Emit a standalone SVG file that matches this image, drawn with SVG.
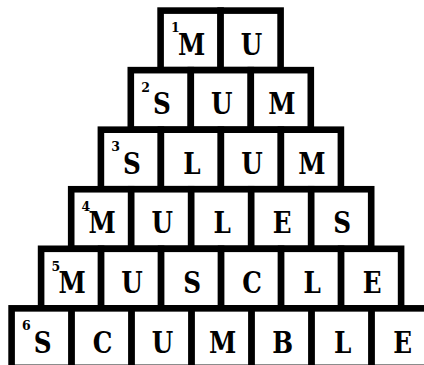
<svg xmlns="http://www.w3.org/2000/svg" width="424" height="365" viewBox="0 0 424 365">
<style>
.c{fill:#fff;stroke:#000;stroke-width:6.6}
.l{font-family:"DejaVu Serif","Liberation Serif",serif;font-weight:bold;font-size:29px;text-anchor:middle;fill:#000}
.n{font-family:"DejaVu Serif","Liberation Serif",serif;font-weight:bold;font-size:12.5px;fill:#000}
</style>
<rect width="424" height="365" fill="#fff"/>
<g id="connectors"/>
<g id="row1">
<g id="r1c1"><rect class="c" x="160.6" y="10.6" width="60" height="59.5"/><text class="n" x="171" y="32.3">1</text><text class="l" transform="translate(191.6 54.8) scale(0.85 1)">M</text></g>
<g id="r1c2"><rect class="c" x="220.6" y="10.6" width="60" height="59.5"/><text class="l" transform="translate(251.6 54.8) scale(0.85 1)">U</text></g>
</g>
<g id="row2">
<g id="r2c1"><rect class="c" x="130.8" y="70.15" width="60" height="59.5"/><text class="n" x="141.2" y="91.85">2</text><text class="l" transform="translate(161.8 114.35) scale(0.85 1)">S</text></g>
<g id="r2c2"><rect class="c" x="190.8" y="70.15" width="60" height="59.5"/><text class="l" transform="translate(221.8 114.35) scale(0.85 1)">U</text></g>
<g id="r2c3"><rect class="c" x="250.8" y="70.15" width="60" height="59.5"/><text class="l" transform="translate(281.8 114.35) scale(0.85 1)">M</text></g>
</g>
<g id="row3">
<g id="r3c1"><rect class="c" x="100.9" y="129.7" width="60" height="59.5"/><text class="n" x="111.3" y="151.4">3</text><text class="l" transform="translate(131.9 173.9) scale(0.85 1)">S</text></g>
<g id="r3c2"><rect class="c" x="160.9" y="129.7" width="60" height="59.5"/><text class="l" transform="translate(191.9 173.9) scale(0.85 1)">L</text></g>
<g id="r3c3"><rect class="c" x="220.9" y="129.7" width="60" height="59.5"/><text class="l" transform="translate(251.9 173.9) scale(0.85 1)">U</text></g>
<g id="r3c4"><rect class="c" x="280.9" y="129.7" width="60" height="59.5"/><text class="l" transform="translate(311.9 173.9) scale(0.85 1)">M</text></g>
</g>
<g id="row4">
<g id="r4c1"><rect class="c" x="71.2" y="189.25" width="60" height="59.5"/><text class="n" x="81.6" y="210.95">4</text><text class="l" transform="translate(102.2 233.45) scale(0.85 1)">M</text></g>
<g id="r4c2"><rect class="c" x="131.2" y="189.25" width="60" height="59.5"/><text class="l" transform="translate(162.2 233.45) scale(0.85 1)">U</text></g>
<g id="r4c3"><rect class="c" x="191.2" y="189.25" width="60" height="59.5"/><text class="l" transform="translate(222.2 233.45) scale(0.85 1)">L</text></g>
<g id="r4c4"><rect class="c" x="251.2" y="189.25" width="60" height="59.5"/><text class="l" transform="translate(282.2 233.45) scale(0.85 1)">E</text></g>
<g id="r4c5"><rect class="c" x="311.2" y="189.25" width="60" height="59.5"/><text class="l" transform="translate(342.2 233.45) scale(0.85 1)">S</text></g>
</g>
<g id="row5">
<g id="r5c1"><rect class="c" x="41.1" y="248.8" width="60" height="59.5"/><text class="n" x="51.5" y="270.5">5</text><text class="l" transform="translate(72.1 293) scale(0.85 1)">M</text></g>
<g id="r5c2"><rect class="c" x="101.1" y="248.8" width="60" height="59.5"/><text class="l" transform="translate(132.1 293) scale(0.85 1)">U</text></g>
<g id="r5c3"><rect class="c" x="161.1" y="248.8" width="60" height="59.5"/><text class="l" transform="translate(192.1 293) scale(0.85 1)">S</text></g>
<g id="r5c4"><rect class="c" x="221.1" y="248.8" width="60" height="59.5"/><text class="l" transform="translate(252.1 293) scale(0.85 1)">C</text></g>
<g id="r5c5"><rect class="c" x="281.1" y="248.8" width="60" height="59.5"/><text class="l" transform="translate(312.1 293) scale(0.85 1)">L</text></g>
<g id="r5c6"><rect class="c" x="341.1" y="248.8" width="60" height="59.5"/><text class="l" transform="translate(372.1 293) scale(0.85 1)">E</text></g>
</g>
<g id="row6">
<g id="r6c1"><rect class="c" x="11.6" y="308.35" width="60" height="59.5"/><text class="n" x="22" y="330.05">6</text><text class="l" transform="translate(42.6 352.55) scale(0.85 1)">S</text></g>
<g id="r6c2"><rect class="c" x="71.6" y="308.35" width="60" height="59.5"/><text class="l" transform="translate(102.6 352.55) scale(0.85 1)">C</text></g>
<g id="r6c3"><rect class="c" x="131.6" y="308.35" width="60" height="59.5"/><text class="l" transform="translate(162.6 352.55) scale(0.85 1)">U</text></g>
<g id="r6c4"><rect class="c" x="191.6" y="308.35" width="60" height="59.5"/><text class="l" transform="translate(222.6 352.55) scale(0.85 1)">M</text></g>
<g id="r6c5"><rect class="c" x="251.6" y="308.35" width="60" height="59.5"/><text class="l" transform="translate(282.6 352.55) scale(0.85 1)">B</text></g>
<g id="r6c6"><rect class="c" x="311.6" y="308.35" width="60" height="59.5"/><text class="l" transform="translate(342.6 352.55) scale(0.85 1)">L</text></g>
<g id="r6c7"><rect class="c" x="371.6" y="308.35" width="60" height="59.5"/><text class="l" transform="translate(402.6 352.55) scale(0.85 1)">E</text></g>
</g>
</svg>
